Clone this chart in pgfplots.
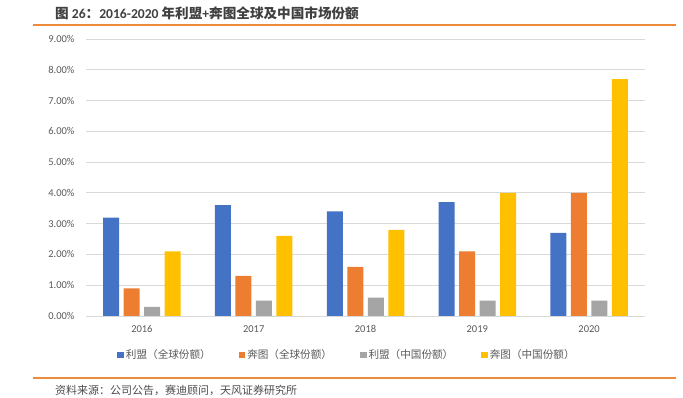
\documentclass[border=0pt]{standalone}
\usepackage{fontspec}
\setmainfont{Carlito}
\newfontfamily\cjk{Noto Sans CJK SC}
\usepackage{pgfplots}
\pgfplotsset{compat=1.18}
\definecolor{cBlue}{HTML}{4472C4}
\definecolor{cOrange}{HTML}{ED7D31}
\definecolor{cGray}{HTML}{A5A5A5}
\definecolor{cYellow}{HTML}{FFC000}
\definecolor{lineOr}{HTML}{EE8B3A}
\definecolor{txt}{HTML}{595959}
\definecolor{gridc}{HTML}{D9D9D9}
\begin{document}
\begin{tikzpicture}[x=1pt,y=1pt]
\useasboundingbox (0,0) rectangle (683,398);
\node[anchor=west,inner sep=0pt,text=black!75] at (55,385) {\fontsize{13.6}{15}\selectfont\bfseries{\cjk 图} 26{\cjk ：}2016-2020 {\cjk 年利盟}+{\cjk 奔图全球及中国市场份额}};
\draw[lineOr,line width=1.1pt] (33,373) -- (676,373);
\draw[lineOr,line width=1.1pt] (33,20) -- (676,20);
\node[anchor=west,inner sep=0pt,text=black!70] at (55,8) {\fontsize{11}{12}\selectfont\cjk 资料来源：公司公告，赛迪顾问，天风证券研究所};
\begin{axis}[
  at={(86pt,82pt)}, anchor=south west,
  scale only axis, width=559pt, height=277pt,
  xmin=-0.5, xmax=4.5, ymin=0, ymax=9,
  ybar=4.5pt, bar width=16pt,
  xtick={0,1,2,3,4}, xticklabels={2016,2017,2018,2019,2020},
  ytick={0,1,...,9},
  yticklabel={\pgfmathprintnumber[fixed,fixed zerofill,precision=2]{\tick}\%},
  /pgf/number format/assume math mode=true,
  xmajorgrids=false, ymajorgrids=true,
  major grid style={draw=gridc, line width=0.8pt},
  axis x line*=bottom, axis y line*=left,
  x axis line style={draw=gridc, line width=0.8pt, -},
  y axis line style={draw=none},
  major tick length=0pt,
  tick label style={text=txt, font=\fontsize{10.5}{12}\selectfont},
  yticklabel style={xshift=-8pt},
  xticklabel style={yshift=-6pt, text height=7pt, text depth=0pt, anchor=north},
  legend columns=4,
  legend style={at={(axis description cs:0.467,-0.141)}, anchor=center, draw=none, fill=none,
    font=\fontsize{10.6}{12}\selectfont\cjk, text=txt,
    /tikz/every even column/.append style={column sep=26pt}},
  legend image code/.code={\fill[#1] (0pt,-3pt) rectangle (6.5pt,3.5pt);},
  legend cell align=left,
]
\addplot[fill=cBlue, draw=none] coordinates {(0,3.2) (1,3.6) (2,3.4) (3,3.7) (4,2.7)};
\addplot[fill=cOrange, draw=none] coordinates {(0,0.9) (1,1.3) (2,1.6) (3,2.1) (4,4.0)};
\addplot[fill=cGray, draw=none] coordinates {(0,0.3) (1,0.5) (2,0.6) (3,0.5) (4,0.5)};
\addplot[fill=cYellow, draw=none] coordinates {(0,2.1) (1,2.6) (2,2.8) (3,4.0) (4,7.7)};
\legend{利盟（全球份额）,奔图（全球份额）,利盟（中国份额）,奔图（中国份额）}
\end{axis}
\end{tikzpicture}
\end{document}
